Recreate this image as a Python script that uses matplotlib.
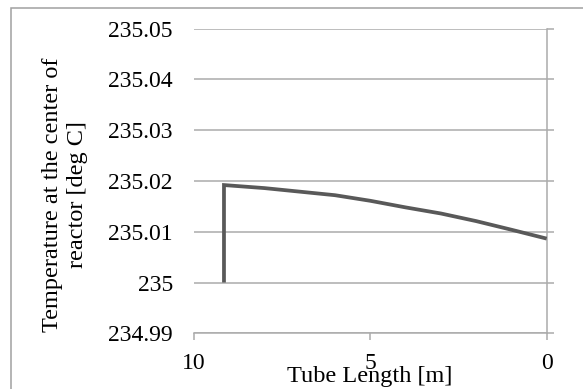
import matplotlib
matplotlib.use("Agg")
import matplotlib.pyplot as plt
from matplotlib.patches import Rectangle

# Data
tube_length = [9.15, 9.15, 8.0, 7.0, 6.0, 5.0, 4.0, 3.0, 2.0, 1.0, 0.0]
temperature = [235.0, 235.0192, 235.0186, 235.0179, 235.0172, 235.0161,
               235.0148, 235.0136, 235.0121, 235.0104, 235.00865]
x_ticks = [10, 5, 0]
y_ticks = [234.99, 235.0, 235.01, 235.02, 235.03, 235.04, 235.05]
y_tick_labels = ["234.99", "235", "235.01", "235.02", "235.03", "235.04", "235.05"]

W, H = 583, 389
DPI = 100
plt.rcParams['font.family'] = ['Liberation Serif', 'DejaVu Serif']

fig = plt.figure(figsize=(W / DPI, H / DPI), dpi=DPI)
left, right, top, bottom = 194, 546.7, 28.7, 333.3
ax = fig.add_axes([left / W, 1 - bottom / H, (right - left) / W, (bottom - top) / H])

grid_color = '#ABABAB'
ax.plot(tube_length, temperature, color='#595959', lw=2.7, solid_joinstyle='miter',
        solid_capstyle='butt', zorder=3)

ax.set_xlim(10, 0)
ax.set_ylim(234.99, 235.05)
ax.set_xticks(x_ticks)
ax.set_xticklabels([str(t) for t in x_ticks])
ax.set_yticks(y_ticks)
ax.set_yticklabels(y_tick_labels)

for s in ['left', 'top']:
    ax.spines[s].set_visible(False)
for s in ['right', 'bottom']:
    ax.spines[s].set_color(grid_color)
    ax.spines[s].set_linewidth(1.1)

ax.grid(axis='y', color=grid_color, lw=1.1)
ax.set_axisbelow(True)

ax.tick_params(axis='y', left=False, right=True, labelleft=True, labelright=False,
               direction='out', length=5.2, width=1.1, color=grid_color,
               labelsize=17, pad=10)
ax.tick_params(axis='x', bottom=True, direction='out', length=5.2, width=1.1,
               color=grid_color, labelsize=17, pad=9)

fig.text(370 / W, 1 - 382 / H, 'Tube Length [m]', ha='center', va='baseline', fontsize=17.5)
fig.text(65 / W, 1 - 195 / H, 'Temperature at the center of\nreactor [deg C]',
         rotation=90, ha='center', va='center', fontsize=17.5, multialignment='center',
         linespacing=1.2)

# outer chart border (cut off on right and bottom)
fig.patches.append(Rectangle((11 / W, -0.1), 1.2, 1 - 8 / H + 0.1,
                             transform=fig.transFigure, fill=False,
                             edgecolor='#A0A0A0', lw=1.1))

fig.savefig('out.png', dpi=DPI)
